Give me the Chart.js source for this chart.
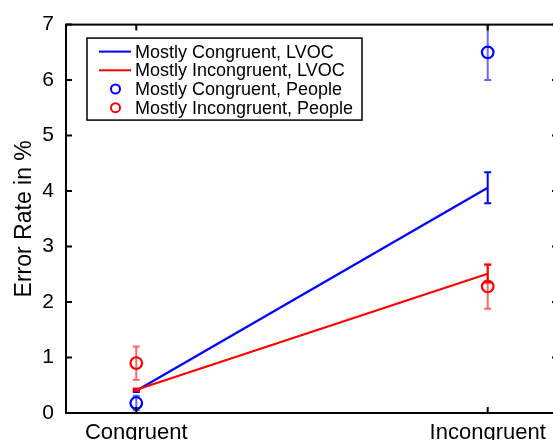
<!DOCTYPE html>
<html>
<head>
<meta charset="utf-8">
<script src="https://cdn.jsdelivr.net/npm/chart.js@4/dist/chart.umd.min.js"></script>
<style>
  html, body { margin: 0; padding: 0; background: #fff; overflow: hidden; }
  #wrap { width: 553px; height: 440px; overflow: hidden; position: relative; background: #fff; }
  canvas { position: absolute; left: 0; top: 0; }
</style>
</head>
<body>
<div id="wrap"><canvas id="c" width="580" height="460"></canvas></div>
<script>
// Conditions on the x axis and y tick values
const conditions = ['Congruent', 'Incongruent'];
const yTicks = [0, 1, 2, 3, 4, 5, 6, 7];

// Model (LVOC) error rates in %, with error bars
const mcLvoc = [0.40, 4.06];
const mcLvocErr = [0.02, 0.28];
const miLvoc = [0.42, 2.51];
const miLvocErr = [0.02, 0.16];

// Human error rates in %, with error bars
const mcPeople = [0.18, 6.50];
const mcPeopleErr = [0.13, 0.50];
const miPeople = [0.90, 2.28];
const miPeopleErr = [0.30, 0.40];

const seriesLabels = [
  'Mostly Congruent, LVOC',
  'Mostly Incongruent, LVOC',
  'Mostly Congruent, People',
  'Mostly Incongruent, People'
];

const FONT = '"Liberation Sans", Arial, Helvetica, sans-serif';
const BLUE = '#0000ff';
const RED = '#ff0000';

const toPoints = vals => vals.map((v, i) => ({ x: i + 1, y: v }));

// Vertical error bars with short caps, clipped to the plot box
function drawErrors(chart, index) {
  const ds = chart.data.datasets[index];
  if (!ds.errors) return;
  const { ctx, chartArea: a, scales: { x, y } } = chart;
  ctx.save();
  ctx.beginPath();
  ctx.rect(a.left, a.top, a.right - a.left, a.bottom - a.top);
  ctx.clip();
  ctx.strokeStyle = ds.errorColor;
  ctx.lineWidth = 2;
  ds.data.forEach((p, i) => {
    const e = ds.errors[i];
    const px = x.getPixelForValue(p.x);
    const top = y.getPixelForValue(p.y + e);
    const bot = y.getPixelForValue(p.y - e);
    ctx.beginPath();
    ctx.moveTo(px, top); ctx.lineTo(px, bot);
    ctx.moveTo(px - 3.5, top); ctx.lineTo(px + 3.5, top);
    ctx.moveTo(px - 3.5, bot); ctx.lineTo(px + 3.5, bot);
    ctx.stroke();
  });
  ctx.restore();
}

const errorBars = {
  id: 'errorBars',
  beforeDatasetDraw(chart, args) {
    if (chart.data.datasets[args.index].errorsBefore) drawErrors(chart, args.index);
  },
  afterDatasetDraw(chart, args) {
    if (!chart.data.datasets[args.index].errorsBefore) drawErrors(chart, args.index);
  }
};

// Closed box with inward-pointing tick marks on all four sides
const boxAxes = {
  id: 'boxAxes',
  afterDatasetsDraw(chart) {
    const { ctx, chartArea: a, scales: { x, y } } = chart;
    ctx.save();
    ctx.strokeStyle = '#000';
    ctx.lineWidth = 2;
    ctx.beginPath();
    y.ticks.forEach(t => {
      const py = y.getPixelForValue(t.value);
      ctx.moveTo(a.left, py); ctx.lineTo(a.left + 6, py);
      ctx.moveTo(a.right, py); ctx.lineTo(a.right - 6, py);
    });
    x.ticks.forEach(t => {
      const px = x.getPixelForValue(t.value);
      ctx.moveTo(px, a.bottom); ctx.lineTo(px, a.bottom - 6);
      ctx.moveTo(px, a.top); ctx.lineTo(px, a.top + 6);
    });
    ctx.stroke();
    ctx.strokeRect(a.left, a.top, a.right - a.left, a.bottom - a.top);
    ctx.restore();
  }
};

// Boxed legend in the upper-left corner of the plot
const legendBox = {
  id: 'legendBox',
  afterDraw(chart) {
    const { ctx, chartArea: a } = chart;
    const bx = a.left + 21, by = a.top + 13.5, bw = 275, bh = 82;
    ctx.save();
    ctx.fillStyle = '#fff';
    ctx.fillRect(bx, by, bw, bh);
    ctx.strokeStyle = '#000';
    ctx.lineWidth = 1.5;
    ctx.strokeRect(bx, by, bw, bh);
    ctx.font = '18px ' + FONT;
    ctx.textBaseline = 'middle';
    ctx.textAlign = 'left';
    chart.data.datasets.forEach((ds, i) => {
      const cy = by + 13.5 + i * 18.7;
      ctx.strokeStyle = ds.borderColor;
      ctx.lineWidth = 2;
      ctx.beginPath();
      if (ds.showLine !== false) {
        ctx.moveTo(bx + 12, cy); ctx.lineTo(bx + 44, cy);
      } else {
        ctx.arc(bx + 28.5, cy, 4.5, 0, Math.PI * 2);
      }
      ctx.stroke();
      ctx.fillStyle = '#000';
      ctx.fillText(ds.label, bx + 48, cy + 1);
    });
    ctx.restore();
  }
};

new Chart(document.getElementById('c'), {
  type: 'line',
  data: {
    datasets: [
      {
        label: seriesLabels[0], data: toPoints(mcLvoc), errors: mcLvocErr,
        errorColor: BLUE, borderColor: BLUE, borderWidth: 2.2, pointRadius: 0,
        fill: false, tension: 0, order: 4
      },
      {
        label: seriesLabels[1], data: toPoints(miLvoc), errors: miLvocErr,
        errorColor: RED, borderColor: RED, borderWidth: 2.2, pointRadius: 0,
        fill: false, tension: 0, order: 3
      },
      {
        label: seriesLabels[2], data: toPoints(mcPeople), errors: mcPeopleErr,
        errorColor: 'rgba(0,0,255,0.6)', errorsBefore: true,
        borderColor: BLUE, backgroundColor: 'rgba(0,0,0,0)', showLine: false,
        pointStyle: 'circle', pointRadius: 5.8, pointBorderWidth: 2.2, order: 2
      },
      {
        label: seriesLabels[3], data: toPoints(miPeople), errors: miPeopleErr,
        errorColor: 'rgba(255,0,0,0.6)', errorsBefore: true,
        borderColor: RED, backgroundColor: 'rgba(0,0,0,0)', showLine: false,
        pointStyle: 'circle', pointRadius: 5.8, pointBorderWidth: 2.2, order: 1
      }
    ]
  },
  options: {
    responsive: false,
    animation: false,
    devicePixelRatio: 1,
    layout: { padding: { left: 0, top: 24, right: 22, bottom: 0 } },
    plugins: { legend: { display: false }, tooltip: { enabled: false } },
    scales: {
      x: {
        type: 'linear', min: 0.8, max: 2.2,
        afterBuildTicks: s => { s.ticks = conditions.map((c, i) => ({ value: i + 1 })); },
        afterFit: s => { s.height = 47; },
        ticks: {
          callback: v => conditions[Math.round(v) - 1] || '',
          font: { family: FONT, size: 22 }, color: '#000', padding: 7,
          autoSkip: false, maxRotation: 0
        },
        grid: { display: false, drawTicks: false },
        border: { display: false }
      },
      y: {
        min: 0, max: 7,
        afterBuildTicks: s => { s.ticks = yTicks.map(v => ({ value: v })); },
        afterFit: s => { s.width = 66; },
        ticks: { font: { family: FONT, size: 21 }, color: '#000', padding: 12 },
        grid: { display: false, drawTicks: false },
        border: { display: false },
        title: {
          display: true, text: 'Error Rate in %', color: '#000',
          font: { family: FONT, size: 23 }, padding: { top: 11, bottom: 0 }
        }
      }
    }
  },
  plugins: [errorBars, boxAxes, legendBox]
});
</script>
</body>
</html>
